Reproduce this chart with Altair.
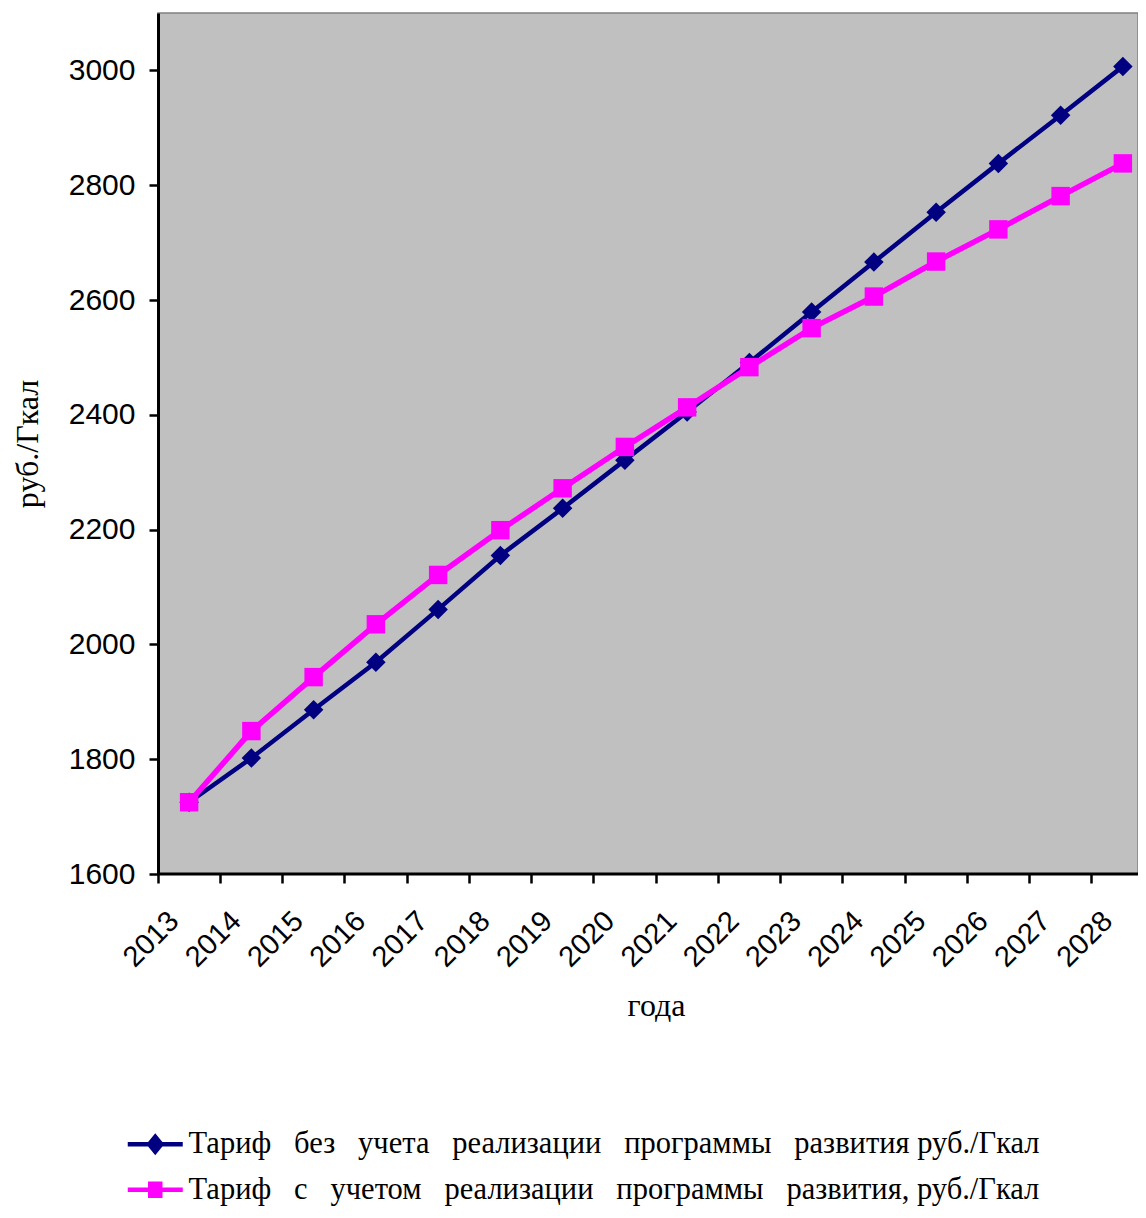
import altair as alt
import pandas as pd

years = [str(y) for y in range(2013, 2029)]
tariff_without = [1725, 1802, 1886, 1969, 2061, 2155, 2237, 2321, 2405, 2491, 2579, 2666, 2753, 2838, 2922, 3007]
tariff_with = [1725, 1849, 1943, 2035, 2121, 2199, 2272, 2344, 2413, 2483, 2551, 2606, 2667, 2723, 2781, 2838]
name_without = "Тариф без учета реализации программы развития руб./Гкал"
name_with = "Тариф с учетом реализации программы развития, руб./Гкал"
y_ticks = [1600, 1800, 2000, 2200, 2400, 2600, 2800, 3000]

df = pd.DataFrame({
    "year": years * 2,
    "value": tariff_without + tariff_with,
    "series": [name_without] * len(years) + [name_with] * len(years),
})
axis_line = pd.DataFrame({"value": [y_ticks[0]]})

series_order = [name_without, name_with]
colors = ["#000080", "#FF00FF"]


def justified(name):
    # the reference legend text is justified: wider gaps between words, except before the unit
    words = name.split(" ")
    gap = " \u00a0\u00a0"
    return gap.join(words[:-1]) + " " + words[-1]


label_expr = (
    "datum.label === '" + name_without + "' ? '" + justified(name_without)
    + "' : '" + justified(name_with) + "'"
)

path_diamond = "M-2.75,0L-0.6,0L0,-0.75L0.6,0L2.75,0L0.6,0L0,0.75L-0.6,0Z"
path_square = "M-2.75,0L-0.5,0L-0.5,-0.6L0.5,-0.6L0.5,0L2.75,0L0.5,0L0.5,0.6L-0.5,0.6L-0.5,0Z"
shape_expr = "datum.value === '" + name_without + "' ? '" + path_diamond + "' : '" + path_square + "'"

legend = alt.Legend(
    title=None,
    orient="none",
    legendX=-18,
    legendY=1116,
    padding=0,
    direction="vertical",
    labelFont="Liberation Serif",
    labelFontSize=30.5,
    labelColor="black",
    labelLimit=1200,
    labelOffset=18,
    labelExpr=label_expr,
    symbolSize=400,
    symbolStrokeWidth=4.5,
    symbolType=alt.ExprRef(shape_expr),
    symbolOpacity=1,
    rowPadding=13.5,
)

x_enc = alt.X(
    "year:O",
    bandPosition=0.5,
    scale=alt.Scale(type="band", domain=years, range=[0, 996], paddingInner=0, paddingOuter=0),
    axis=alt.Axis(
        title="года",
        bandPosition=0,
        domain=False,
        labelAngle=-45,
        labelAlign="right",
        labelBaseline="middle",
        labelOffset=-15,
        labelPadding=33,
        labelFont="Liberation Sans",
        labelFontSize=29,
        labelColor="black",
        tickSize=9,
        tickWidth=2.5,
        tickColor="black",
        grid=False,
        titleFont="Liberation Serif",
        titleFontSize=32,
        titleFontWeight="normal",
        titleColor="black",
        titlePadding=18,
    ),
)
y_enc = alt.Y(
    "value:Q",
    scale=alt.Scale(domain=[1600, 3100], nice=False, zero=False),
    axis=alt.Axis(
        title="руб./Гкал",
        values=y_ticks,
        format="d",
        labelFont="Liberation Sans",
        labelFontSize=30,
        labelColor="black",
        labelPadding=14,
        tickSize=9,
        tickWidth=2.5,
        tickColor="black",
        domainColor="black",
        domainWidth=3,
        grid=False,
        titleFont="Liberation Serif",
        titleFontSize=32,
        titleFontWeight="normal",
        titleColor="black",
        titlePadding=24,
    ),
)
stroke_scale = alt.Scale(domain=series_order, range=colors)
fill_scale = alt.Scale(domain=series_order, range=colors)

base = alt.Chart(df)


def layer_for(name, width, shape, size):
    sub = base.transform_filter(alt.datum.series == name)
    line = sub.mark_line(strokeWidth=width).encode(
        x=x_enc, y=y_enc, stroke=alt.Stroke("series:N", scale=stroke_scale, legend=legend)
    )
    pts = sub.mark_point(shape=shape, filled=True, size=size, opacity=1, strokeWidth=0).encode(
        x=x_enc, y=y_enc, fill=alt.Fill("series:N", scale=fill_scale, legend=legend)
    )
    return [line, pts]


# bottom axis line across the visible plot width (the x axis domain would run past the page edge)
bottom_axis = alt.Chart(axis_line).mark_rule(color="black", strokeWidth=3).encode(y=y_enc)

layers = layer_for(name_without, 4.5, "diamond", 380) + layer_for(name_with, 5.5, "square", 340) + [bottom_axis]

chart = alt.layer(*layers).properties(
    width=980,
    height=861,
    autosize=alt.AutoSizeParams(type="none"),
    padding={"left": 150, "top": 5, "right": 0, "bottom": 332},
).configure_view(
    fill="#C0C0C0",
    stroke="#808080",
    strokeWidth=1.5,
)

chart.save("out.html", embed_options={"renderer": "svg", "actions": False})
